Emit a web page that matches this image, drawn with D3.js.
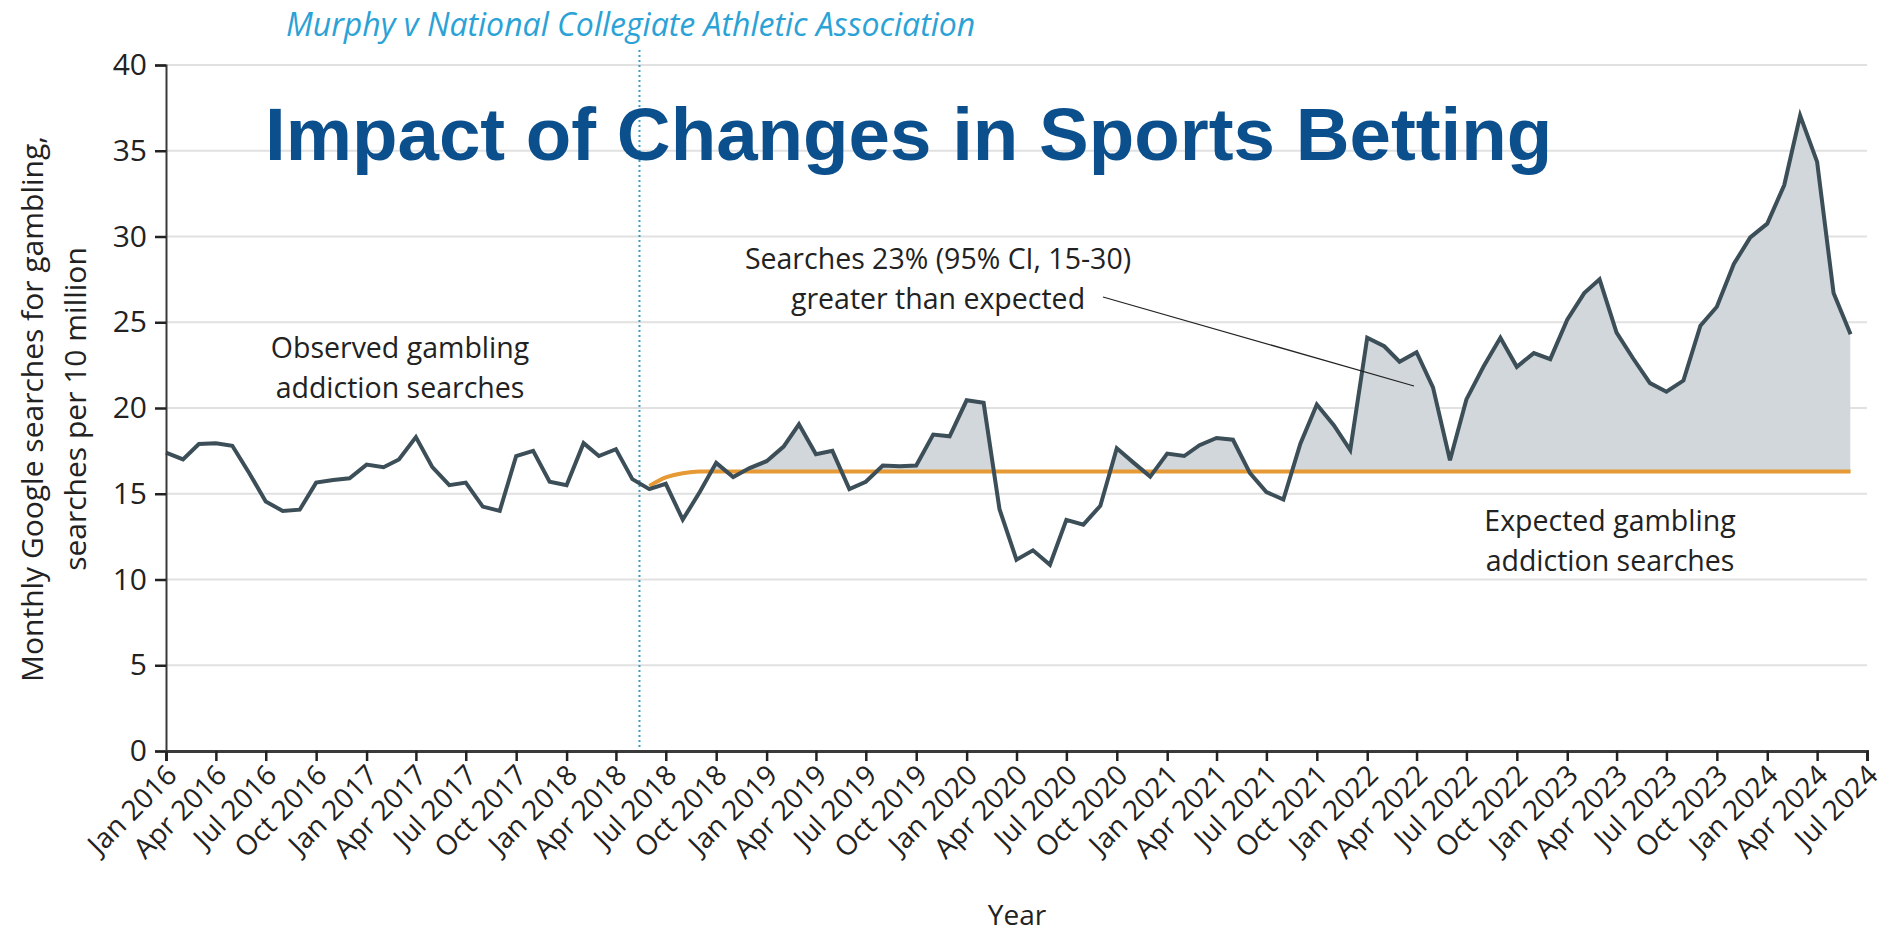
<!DOCTYPE html>
<html>
<head>
<meta charset="utf-8">
<script src="https://cdn.jsdelivr.net/npm/d3@7"></script>
<style>
  body { margin: 0; background: #fff; }
  svg { display: block; }
</style>
</head>
<body>
<div id="chart"></div>
<script>
// Monthly observed searches per 10 million, Jan 2016 .. Jun 2024
const startMonth = "Jan 2016";
const observed = [
  17.4, 17.0, 17.9, 17.95, 17.8, 16.2, 14.55, 14.0, 14.07, 15.65, 15.8, 15.9,   // 2016
  16.7, 16.55, 17.0, 18.3, 16.55, 15.5, 15.65, 14.25, 14.0, 17.2, 17.5, 15.7,   // 2017
  15.5, 17.95, 17.2, 17.6, 15.85, 15.27, 15.58, 13.49, 15.1, 16.8, 15.97, 16.5, // 2018
  16.9, 17.75, 19.05, 17.3, 17.5, 15.27, 15.7, 16.65, 16.6, 16.65, 18.45, 18.35, // 2019
  20.45, 20.3, 14.1, 11.15, 11.7, 10.86, 13.48, 13.2, 14.3, 17.65, 16.8, 16.0,  // 2020
  17.34, 17.2, 17.83, 18.25, 18.15, 16.2, 15.1, 14.66, 17.92, 20.2, 19.0, 17.55, // 2021
  24.1, 23.6, 22.7, 23.25, 21.2, 16.95, 20.5, 22.4, 24.1, 22.4, 23.2, 22.85,    // 2022
  25.15, 26.7, 27.5, 24.4, 22.9, 21.45, 20.95, 21.6, 24.8, 25.9, 28.4, 29.95,   // 2023
  30.75, 33.0, 37.05, 34.35, 26.7, 24.3                                         // 2024
];

// Expected (counterfactual) searches after the ruling
const expectedMonths = ["Jun 2018", "Jul 2018", "Aug 2018", "Sep 2018", "Jun 2024"];
const expectedValues = [15.45, 15.95, 16.2, 16.3, 16.3];

const tickLabels = [
  "Jan 2016", "Apr 2016", "Jul 2016", "Oct 2016",
  "Jan 2017", "Apr 2017", "Jul 2017", "Oct 2017",
  "Jan 2018", "Apr 2018", "Jul 2018", "Oct 2018",
  "Jan 2019", "Apr 2019", "Jul 2019", "Oct 2019",
  "Jan 2020", "Apr 2020", "Jul 2020", "Oct 2020",
  "Jan 2021", "Apr 2021", "Jul 2021", "Oct 2021",
  "Jan 2022", "Apr 2022", "Jul 2022", "Oct 2022",
  "Jan 2023", "Apr 2023", "Jul 2023", "Oct 2023",
  "Jan 2024", "Apr 2024", "Jul 2024"
];
const yTicks = [0, 5, 10, 15, 20, 25, 30, 35, 40];
const rulingDate = "2018-05-14";

const width = 1891, height = 933;
const parseMonth = d3.timeParse("%b %Y");
const start = parseMonth(startMonth);

const obsData = observed.map((v, i) => ({ date: d3.timeMonth.offset(start, i), v }));
const expData = expectedMonths.map((m, i) => ({ date: parseMonth(m), v: expectedValues[i] }));
const tickDates = tickLabels.map(parseMonth);

const x = d3.scaleTime()
    .domain([tickDates[0], tickDates[tickDates.length - 1]])
    .range([166, 1867]);
const y = d3.scaleLinear()
    .domain([0, 40])
    .range([751, 65]);

const textFont = "'Open Sans', 'Noto Sans', sans-serif";

const svg = d3.select("#chart").append("svg")
    .attr("width", width)
    .attr("height", height);

// gridlines
svg.append("g")
  .selectAll("line")
  .data(yTicks.filter(d => d > 0))
  .join("line")
    .attr("x1", x.range()[0])
    .attr("x2", x.range()[1])
    .attr("y1", d => y(d))
    .attr("y2", d => y(d))
    .attr("stroke", "#e1e1e1")
    .attr("stroke-width", 2);

// clip: everything above the expected line
svg.append("clipPath")
    .attr("id", "above-expected")
  .append("path")
    .attr("d", d3.area()
        .x(d => x(d.date))
        .y0(y(40) - 20)
        .y1(d => y(d.v))
        .curve(d3.curveMonotoneX)(expData));

const afterRuling = obsData.filter(d => d.date >= expData[0].date);
svg.append("path")
    .attr("clip-path", "url(#above-expected)")
    .attr("d", d3.area()
        .x(d => x(d.date))
        .y0(y(0))
        .y1(d => y(d.v))(afterRuling))
    .attr("fill", "#d2d7db");

// ruling marker
svg.append("line")
    .attr("x1", x(new Date(rulingDate)))
    .attr("x2", x(new Date(rulingDate)))
    .attr("y1", 50)
    .attr("y2", y(0))
    .attr("stroke", "#3a9fc4")
    .attr("stroke-width", 2)
    .attr("stroke-dasharray", "2,3");

// expected line
svg.append("path")
    .attr("d", d3.line()
        .x(d => x(d.date))
        .y(d => y(d.v))
        .curve(d3.curveMonotoneX)(expData))
    .attr("fill", "none")
    .attr("stroke", "#e69a35")
    .attr("stroke-width", 4);

// observed line
svg.append("path")
    .attr("d", d3.line()
        .x(d => x(d.date))
        .y(d => y(d.v))(obsData))
    .attr("fill", "none")
    .attr("stroke", "#3c4e57")
    .attr("stroke-width", 4)
    .attr("stroke-linejoin", "miter");

// y axis
const yAxis = svg.append("g")
    .attr("transform", `translate(${x.range()[0]},0)`)
    .call(d3.axisLeft(y).tickValues(yTicks).tickSize(11).tickPadding(8));
yAxis.select(".domain").attr("stroke", "#3a3a3a").attr("stroke-width", 2);
yAxis.selectAll(".tick line").attr("stroke", "#222").attr("stroke-width", 2.5);
yAxis.selectAll(".tick text")
    .attr("font-family", textFont)
    .attr("font-size", 30)
    .attr("fill", "#222");

// x axis
const xAxis = svg.append("g")
    .attr("transform", `translate(0,${y(0)})`)
    .call(d3.axisBottom(x).tickValues(tickDates).tickSize(10).tickFormat((d, i) => tickLabels[i]));
xAxis.select(".domain").attr("stroke", "#3a3a3a").attr("stroke-width", 3);
xAxis.selectAll(".tick line").attr("stroke", "#222").attr("stroke-width", 2.5);
xAxis.selectAll(".tick text")
    .attr("font-family", textFont)
    .attr("font-size", 28)
    .attr("fill", "#222")
    .attr("text-anchor", "end")
    .attr("dy", null)
    .attr("y", 0)
    .attr("transform", "translate(12,26) rotate(-45)");

// axis titles
svg.append("text")
    .attr("x", 1017)
    .attr("y", 925)
    .attr("text-anchor", "middle")
    .attr("font-family", textFont)
    .attr("font-size", 28)
    .attr("fill", "#222")
    .text("Year");

const yTitle = svg.append("text")
    .attr("transform", "translate(43,409) rotate(-90)")
    .attr("text-anchor", "middle")
    .attr("font-family", textFont)
    .attr("font-size", 30)
    .attr("fill", "#222");
yTitle.append("tspan").attr("x", 0).attr("y", 0).text("Monthly Google searches for gambling,");
yTitle.append("tspan").attr("x", 0).attr("y", 43).text("searches per 10 million");

// annotations
function note(cx, cy, lines) {
  const t = svg.append("text")
      .attr("text-anchor", "middle")
      .attr("font-family", textFont)
      .attr("font-size", 28.5)
      .attr("fill", "#222");
  lines.forEach((l, i) => {
    t.append("tspan").attr("x", cx).attr("y", cy + i * 40).text(l);
  });
}
note(400, 358, ["Observed gambling", "addiction searches"]);
note(938, 269, ["Searches 23% (95% CI, 15-30)", "greater than expected"]);
note(1610, 531, ["Expected gambling", "addiction searches"]);

svg.append("line")
    .attr("x1", 1103).attr("y1", 297)
    .attr("x2", 1414).attr("y2", 386)
    .attr("stroke", "#222")
    .attr("stroke-width", 1.3);

// ruling label
svg.append("text")
    .attr("x", 286)
    .attr("y", 36)
    .attr("font-family", textFont)
    .attr("font-style", "italic")
    .attr("font-size", 32)
    .attr("fill", "#2ba2d6")
    .text("Murphy v National Collegiate Athletic Association");

// title
svg.append("text")
    .attr("x", 265)
    .attr("y", 160)
    .attr("font-family", "'Liberation Sans', Arial, sans-serif")
    .attr("font-weight", "bold")
    .attr("font-size", 74.5)
    .attr("fill", "#0b4f8c")
    .text("Impact of Changes in Sports Betting");
</script>
</body>
</html>
